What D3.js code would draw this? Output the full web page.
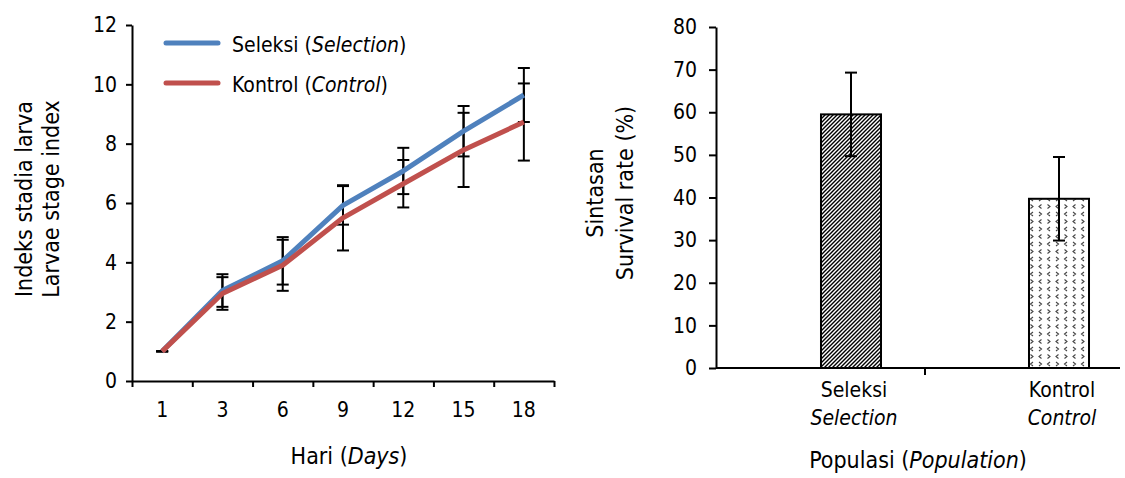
<!DOCTYPE html>
<html>
<head>
<meta charset="utf-8">
<script src="https://cdn.jsdelivr.net/npm/d3@7"></script>
<style>
  body { margin: 0; background: #fff; }
  svg text { font-family: "DejaVu Sans Condensed", "Liberation Sans Narrow", sans-serif; font-stretch: condensed; fill: #000; }
  .axis path, .axis line { stroke: #000; stroke-width: 2; }
  .axis text { font-size: 21px; }
</style>
</head>
<body>
<svg id="chart" width="1125" height="478"></svg>
<script>
// larvae stage index data
const days = ["1", "3", "6", "9", "12", "15", "18"];
const selMean = [1.0, 3.05, 4.05, 5.92, 7.08, 8.42, 9.64];
const selSd   = [0.0, 0.55, 0.8, 0.65, 0.78, 0.85, 0.91];
const ctrlMean = [1.0, 2.95, 3.9, 5.5, 6.65, 7.79, 8.73];
const ctrlSd   = [0.0, 0.55, 0.86, 1.1, 0.8, 1.25, 1.3];
const stageTicks = [0, 2, 4, 6, 8, 10, 12];

// survival data
const pops = ["Seleksi", "Kontrol"];
const popsEn = ["Selection", "Control"];
const survMean = [59.5, 39.7];
const survSd = [9.8, 9.8];
const survTicks = [0, 10, 20, 30, 40, 50, 60, 70, 80];

const svg = d3.select("#chart");

// patterns for the bars
const defs = svg.append("defs");
const hatch = defs.append("pattern")
    .attr("id", "hatch")
    .attr("patternUnits", "userSpaceOnUse")
    .attr("width", 4).attr("height", 4);
hatch.append("rect").attr("width", 4).attr("height", 4).attr("fill", "#fff");
hatch.append("path")
    .attr("d", "M-1,1 l2,-2 M0,4 l4,-4 M3,5 l2,-2")
    .attr("stroke", "#000").attr("stroke-width", 1.4);

const dots = defs.append("pattern")
    .attr("id", "dots")
    .attr("patternUnits", "userSpaceOnUse")
    .attr("width", 17).attr("height", 15);
dots.append("rect").attr("width", 17).attr("height", 15).attr("fill", "#fff");
dots.append("path")
    .attr("d", "M2,2 l2.5,2 l-2.5,2 M13,2 l-2.5,2 l2.5,2 M4.5,9.5 l-2.5,2 l2.5,2 M10.5,9.5 l2.5,2 l-2.5,2")
    .attr("stroke", "#444").attr("stroke-width", 1.1).attr("fill", "none");

//
// left chart: line chart with error bars
//
const xL = d3.scaleBand().domain(days).range([132, 554]);
const xEdge = d3.scaleLinear().domain([0, days.length]).range([132, 554]);
const yL = d3.scaleLinear().domain([0, 12]).range([381, 25]);

svg.append("g")
    .attr("class", "axis")
    .attr("transform", "translate(132,0)")
    .call(d3.axisLeft(yL).tickValues(stageTicks).tickSize(6).tickPadding(9).tickSizeOuter(0));

svg.append("g")
    .attr("class", "axis")
    .attr("transform", "translate(0,381)")
    .call(d3.axisBottom(xEdge).ticks(days.length).tickFormat("").tickSize(6).tickSizeOuter(0));

svg.append("g")
    .attr("class", "axis")
    .attr("transform", "translate(0,381)")
    .call(d3.axisBottom(xL).tickSize(0).tickPadding(21))
    .call(g => g.select(".domain").remove());

const series = [
  {name: "Seleksi", en: "Selection", mean: selMean, sd: selSd, color: "#4F81BD"},
  {name: "Kontrol", en: "Control", mean: ctrlMean, sd: ctrlSd, color: "#C0504D"}
];

// error bars first, lines over them
series.forEach(s => {
  const eb = svg.append("g").attr("stroke", "#000").attr("stroke-width", 2);
  days.forEach((d, i) => {
    const cx = xL(d) + xL.bandwidth() / 2;
    const hi = yL(s.mean[i] + s.sd[i]);
    const lo = yL(s.mean[i] - s.sd[i]);
    eb.append("line").attr("x1", cx).attr("x2", cx).attr("y1", hi).attr("y2", lo);
    eb.append("line").attr("x1", cx - 6).attr("x2", cx + 6).attr("y1", hi).attr("y2", hi);
    eb.append("line").attr("x1", cx - 6).attr("x2", cx + 6).attr("y1", lo).attr("y2", lo);
  });
});

const line = d3.line()
    .x((d, i) => xL(days[i]) + xL.bandwidth() / 2)
    .y(d => yL(d));

series.forEach(s => {
  svg.append("path")
      .datum(s.mean)
      .attr("d", line)
      .attr("fill", "none")
      .attr("stroke", s.color)
      .attr("stroke-width", 5)
      .attr("stroke-linejoin", "round");
});

// legend
series.forEach((s, i) => {
  const ly = 43 + i * 40;
  svg.append("line")
      .attr("x1", 166).attr("x2", 218).attr("y1", ly).attr("y2", ly)
      .attr("stroke", s.color).attr("stroke-width", 5).attr("stroke-linecap", "round");
  const t = svg.append("text").attr("x", 232).attr("y", ly + 9).attr("font-size", "21px");
  t.append("tspan").text(s.name + (i === 0 ? "  (" : " ("));
  t.append("tspan").attr("font-style", "italic").text(s.en);
  t.append("tspan").text(")");
});

// axis titles
svg.append("text")
    .attr("transform", "translate(32,199) rotate(-90)")
    .attr("text-anchor", "middle").attr("font-size", "23px")
    .text("Indeks stadia larva");
svg.append("text")
    .attr("transform", "translate(59,199) rotate(-90)")
    .attr("text-anchor", "middle").attr("font-size", "23px")
    .text("Larvae stage index");

const xt = svg.append("text").attr("x", 349).attr("y", 464)
    .attr("text-anchor", "middle").attr("font-size", "23px");
xt.append("tspan").text("Hari (");
xt.append("tspan").attr("font-style", "italic").text("Days");
xt.append("tspan").text(")");

//
// right chart: bars with error bars
//
const yR = d3.scaleLinear().domain([0, 80]).range([368, 27]);
const xR = d3.scaleBand().domain(pops).range([747, 1163])
    .paddingInner(0.7115).paddingOuter(0.7115 / 2);
const xAxisR = d3.scaleLinear().domain([0, 2]).range([716, 1134]);

svg.append("g")
    .attr("class", "axis")
    .attr("transform", "translate(716,0)")
    .call(d3.axisLeft(yR).tickValues(survTicks).tickSize(7).tickPadding(12).tickSizeOuter(0));

svg.selectAll("rect.bar")
    .data(pops)
    .join("rect")
    .attr("class", "bar")
    .attr("x", d => xR(d))
    .attr("y", (d, i) => yR(survMean[i]))
    .attr("width", xR.bandwidth())
    .attr("height", (d, i) => yR(0) - yR(survMean[i]))
    .attr("fill", (d, i) => i === 0 ? "url(#hatch)" : "url(#dots)")
    .attr("stroke", "#000")
    .attr("stroke-width", 2);

const ebR = svg.append("g").attr("stroke", "#000").attr("stroke-width", 2);
pops.forEach((p, i) => {
  const cx = xR(p) + xR.bandwidth() / 2;
  const hi = yR(survMean[i] + survSd[i]);
  const lo = yR(survMean[i] - survSd[i]);
  ebR.append("line").attr("x1", cx).attr("x2", cx).attr("y1", hi).attr("y2", lo);
  ebR.append("line").attr("x1", cx - 6).attr("x2", cx + 6).attr("y1", hi).attr("y2", hi);
  ebR.append("line").attr("x1", cx - 6).attr("x2", cx + 6).attr("y1", lo).attr("y2", lo);
});

// x axis of the bar chart
svg.append("line")
    .attr("x1", 716).attr("x2", 1120).attr("y1", yR(0)).attr("y2", yR(0))
    .attr("stroke", "#000").attr("stroke-width", 2);
svg.append("line")
    .attr("x1", xAxisR(1)).attr("x2", xAxisR(1)).attr("y1", yR(0)).attr("y2", yR(0) + 7)
    .attr("stroke", "#000").attr("stroke-width", 2);

pops.forEach((p, i) => {
  const cx = xR(p) + xR.bandwidth() / 2 + 3;
  svg.append("text").attr("x", cx).attr("y", 397)
      .attr("text-anchor", "middle").attr("font-size", "21px").text(p);
  svg.append("text").attr("x", cx).attr("y", 425)
      .attr("text-anchor", "middle").attr("font-size", "21px")
      .attr("font-style", "italic").text(popsEn[i]);
});

svg.append("text")
    .attr("transform", "translate(603,193) rotate(-90)")
    .attr("text-anchor", "middle").attr("font-size", "23px")
    .text("Sintasan");
svg.append("text")
    .attr("transform", "translate(633,193) rotate(-90)")
    .attr("text-anchor", "middle").attr("font-size", "23px")
    .text("Survival rate (%)");

const xtR = svg.append("text").attr("x", 918).attr("y", 468)
    .attr("text-anchor", "middle").attr("font-size", "23px");
xtR.append("tspan").text("Populasi (");
xtR.append("tspan").attr("font-style", "italic").text("Population");
xtR.append("tspan").text(")");
</script>
</body>
</html>
